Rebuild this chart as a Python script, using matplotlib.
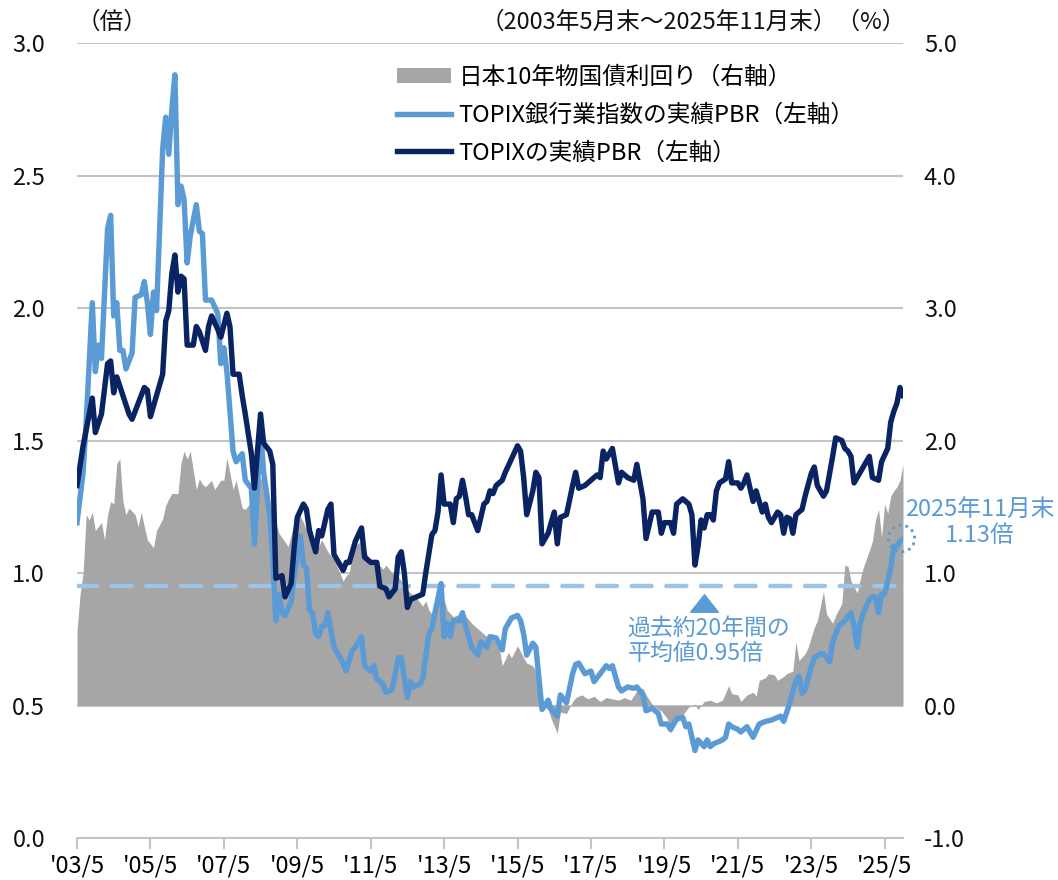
import numpy as np
import matplotlib
matplotlib.use("Agg")
from matplotlib import pyplot as plt
from matplotlib.lines import Line2D
from matplotlib.patches import Patch, Ellipse

plt.rcParams['font.family'] = ['Noto Sans CJK JP', 'DejaVu Sans']

# x values are months counted from 2003/5 (0) to 2025/11 (270)
topix_m = [0, 2, 5, 6, 8, 10, 11, 12, 13, 15, 17, 18, 20, 22, 23, 24, 26, 28, 29, 30,
           31, 32, 33, 34, 35, 36, 38, 39, 40, 42, 43, 44, 46, 47, 49, 50, 51, 53, 54, 55,
           57, 58, 60, 61, 63, 64, 65, 67, 68, 70, 71, 72, 74, 75, 76, 78, 79, 80, 82, 83,
           84, 85, 87, 88, 89, 91, 93, 94, 96, 98, 99, 101, 102, 104, 105, 106, 107, 108, 109, 111,
           113, 114, 116, 117, 118, 119, 120, 122, 123, 124, 125, 126, 127, 128, 129, 131, 133, 134, 135, 136,
           137, 139, 140, 142, 144, 145, 146, 147, 149, 150, 151, 152, 154, 156, 157, 158, 160, 162, 163, 164,
           166, 168, 170, 171, 172, 173, 175, 177, 178, 180, 182, 183, 185, 186, 188, 190, 191, 192, 194, 195,
           196, 198, 200, 201, 202, 203, 204, 205, 206, 207, 208, 209, 210, 212, 213, 214, 216, 217, 218, 219,
           220, 221, 222, 224, 225, 226, 227, 229, 230, 231, 232, 233, 234, 235, 237, 238, 240, 241, 242, 244,
           245, 247, 248, 250, 251, 252, 253, 254, 256, 258, 259, 260, 262, 263, 265, 266, 267, 268, 269, 270]
topix_pbr = [1.33, 1.48, 1.66, 1.53, 1.60, 1.79, 1.80, 1.68, 1.74, 1.67, 1.60, 1.58, 1.64, 1.70, 1.69, 1.59, 1.67, 1.75, 1.95, 1.99,
             2.13, 2.20, 2.06, 2.12, 2.11, 1.86, 1.86, 1.93, 1.91, 1.84, 1.93, 1.97, 1.92, 1.89, 1.98, 1.93, 1.75, 1.75, 1.67, 1.60,
             1.45, 1.32, 1.60, 1.49, 1.46, 1.41, 0.98, 0.99, 0.91, 0.96, 1.10, 1.21, 1.26, 1.24, 1.16, 1.08, 1.16, 1.14, 1.24, 1.26,
             1.07, 1.05, 1.01, 1.04, 1.04, 1.12, 1.17, 1.06, 1.04, 1.04, 0.95, 0.94, 0.91, 0.94, 1.06, 1.08, 1.00, 0.87, 0.90, 0.91,
             0.92, 1.00, 1.145, 1.16, 1.23, 1.37, 1.26, 1.26, 1.19, 1.28, 1.29, 1.35, 1.29, 1.22, 1.22, 1.16, 1.26, 1.27, 1.31, 1.30,
             1.33, 1.35, 1.38, 1.43, 1.48, 1.46, 1.36, 1.22, 1.31, 1.38, 1.36, 1.11, 1.15, 1.23, 1.11, 1.21, 1.22, 1.33, 1.38, 1.32,
             1.33, 1.35, 1.37, 1.36, 1.46, 1.43, 1.47, 1.34, 1.38, 1.36, 1.35, 1.41, 1.28, 1.13, 1.23, 1.23, 1.15, 1.19, 1.19, 1.15,
             1.26, 1.28, 1.26, 1.22, 1.03, 1.10, 1.20, 1.17, 1.22, 1.22, 1.20, 1.31, 1.34, 1.355, 1.42, 1.34, 1.34, 1.32, 1.34, 1.37,
             1.32, 1.27, 1.31, 1.23, 1.26, 1.21, 1.19, 1.23, 1.22, 1.15, 1.21, 1.205, 1.15, 1.22, 1.24, 1.29, 1.375, 1.40, 1.33, 1.29,
             1.31, 1.44, 1.51, 1.50, 1.47, 1.46, 1.44, 1.34, 1.38, 1.42, 1.44, 1.36, 1.35, 1.42, 1.47, 1.57, 1.61, 1.64, 1.70, 1.67]

bank_m = [0, 2, 3, 5, 6, 7, 8, 10, 11, 12, 13, 14, 15, 16, 18, 19, 21, 22, 23, 24,
          25, 26, 28, 29, 30, 31, 32, 33, 34, 35, 36, 37, 39, 40, 41, 42, 44, 46, 47, 48,
          49, 51, 52, 54, 55, 57, 58, 60, 61, 62, 63, 64, 65, 66, 67, 68, 70, 71, 73, 74,
          75, 76, 77, 78, 79, 80, 81, 82, 84, 85, 87, 88, 90, 91, 93, 94, 96, 97, 98, 100,
          101, 103, 105, 106, 108, 109, 110, 112, 113, 115, 116, 117, 119, 120, 121, 122, 123, 125, 126, 127,
          129, 131, 132, 134, 135, 137, 139, 140, 142, 144, 145, 146, 147, 149, 150, 152, 154, 155, 157, 158,
          160, 162, 163, 164, 166, 168, 169, 171, 173, 174, 175, 177, 178, 180, 182, 183, 185, 186, 188, 190,
          191, 193, 194, 196, 198, 199, 200, 202, 203, 205, 206, 207, 208, 211, 212, 213, 214, 216, 217, 219,
          221, 223, 225, 227, 230, 231, 233, 235, 236, 237, 238, 240, 241, 243, 244, 246, 247, 249, 251, 253,
          254, 255, 256, 257, 259, 260, 261, 262, 263, 264, 266, 267, 268, 269, 270]
bank_pbr = [1.19, 1.38, 1.57, 2.02, 1.76, 1.86, 1.81, 2.30, 2.35, 1.97, 2.02, 1.84, 1.84, 1.77, 1.83, 2.04, 2.05, 2.10, 2.02, 1.90,
            2.06, 1.99, 2.60, 2.72, 2.58, 2.75, 2.88, 2.39, 2.46, 2.41, 2.17, 2.27, 2.39, 2.29, 2.28, 2.03, 2.03, 1.98, 1.79, 1.85,
            1.76, 1.46, 1.42, 1.45, 1.35, 1.32, 1.11, 1.54, 1.38, 1.30, 1.22, 1.05, 0.82, 0.92, 0.85, 0.84, 0.89, 0.99, 1.14, 1.03,
            1.02, 0.86, 0.85, 0.77, 0.76, 0.80, 0.80, 0.85, 0.72, 0.70, 0.66, 0.63, 0.71, 0.72, 0.76, 0.65, 0.63, 0.65, 0.60, 0.58,
            0.55, 0.56, 0.68, 0.68, 0.53, 0.59, 0.57, 0.58, 0.60, 0.77, 0.79, 0.85, 0.96, 0.76, 0.81, 0.76, 0.82, 0.82, 0.85, 0.80,
            0.72, 0.69, 0.74, 0.72, 0.76, 0.755, 0.71, 0.79, 0.83, 0.84, 0.82, 0.77, 0.69, 0.735, 0.72, 0.485, 0.52, 0.485, 0.46, 0.54,
            0.51, 0.62, 0.655, 0.66, 0.62, 0.63, 0.59, 0.62, 0.65, 0.64, 0.65, 0.57, 0.555, 0.57, 0.565, 0.57, 0.54, 0.48, 0.49, 0.47,
            0.43, 0.43, 0.41, 0.45, 0.455, 0.42, 0.43, 0.33, 0.37, 0.345, 0.37, 0.345, 0.355, 0.37, 0.38, 0.43, 0.42, 0.41, 0.40, 0.42,
            0.38, 0.43, 0.44, 0.445, 0.46, 0.44, 0.51, 0.595, 0.61, 0.545, 0.56, 0.645, 0.68, 0.695, 0.695, 0.665, 0.74, 0.80, 0.82, 0.85,
            0.80, 0.72, 0.81, 0.85, 0.90, 0.91, 0.91, 0.85, 0.92, 0.92, 1.02, 1.10, 1.10, 1.12, 1.13]

jgb_m = [0, 1, 2, 3, 4, 5, 6, 8, 9, 10, 11, 12, 13, 14, 15, 16, 17, 19, 20, 21,
         22, 23, 25, 26, 28, 29, 30, 31, 33, 34, 35, 36, 37, 39, 40, 41, 42, 44, 45, 47,
         48, 49, 51, 52, 54, 55, 57, 59, 61, 62, 63, 65, 66, 69, 71, 72, 74, 75, 77, 79,
         80, 82, 84, 85, 87, 88, 89, 90, 91, 93, 95, 96, 98, 100, 101, 103, 105, 106, 108, 109,
         111, 113, 114, 115, 117, 119, 120, 121, 123, 124, 126, 128, 129, 132, 134, 136, 138, 139, 141, 142,
         144, 146, 147, 149, 151, 152, 154, 155, 157, 158, 160, 162, 163, 165, 167, 169, 171, 173, 175, 177,
         179, 181, 183, 185, 186, 188, 190, 191, 193, 194, 196, 198, 199, 200, 202, 203, 205, 207, 209, 211,
         213, 214, 216, 217, 219, 221, 222, 223, 225, 226, 228, 229, 231, 232, 234, 235, 236, 238, 239, 241,
         242, 244, 245, 247, 248, 250, 251, 252, 253, 255, 256, 257, 259, 260, 261, 262, 263, 264, 265, 266,
         267, 268, 269, 270]
jgb_yield = [0.56, 0.84, 1.00, 1.44, 1.40, 1.46, 1.32, 1.38, 1.25, 1.44, 1.54, 1.52, 1.83, 1.86, 1.54, 1.44, 1.49, 1.44, 1.35, 1.46,
             1.35, 1.25, 1.19, 1.32, 1.41, 1.51, 1.56, 1.60, 1.60, 1.83, 1.92, 1.86, 1.92, 1.63, 1.71, 1.67, 1.65, 1.70, 1.63, 1.70,
             1.70, 1.87, 1.63, 1.70, 1.49, 1.48, 1.54, 1.67, 1.75, 1.55, 1.43, 1.38, 1.30, 1.20, 1.38, 1.48, 1.38, 1.33, 1.25, 1.20,
             1.25, 1.16, 1.10, 1.05, 0.94, 0.98, 1.00, 1.15, 1.21, 1.24, 1.13, 1.10, 1.08, 1.03, 1.06, 1.00, 0.97, 0.94, 0.87, 0.85,
             0.81, 0.75, 0.79, 0.72, 0.66, 0.86, 0.80, 0.72, 0.67, 0.68, 0.70, 0.65, 0.62, 0.56, 0.52, 0.50, 0.44, 0.30, 0.40, 0.36,
             0.45, 0.36, 0.32, 0.30, 0.22, 0.00, -0.03, -0.10, -0.21, -0.05, -0.06, 0.03, 0.06, 0.08, 0.05, 0.07, 0.03, 0.06, 0.05, 0.04,
             0.06, 0.04, 0.11, 0.13, 0.08, 0.01, -0.03, -0.04, -0.10, -0.21, -0.13, -0.07, -0.04, -0.01, 0.01, -0.03, 0.03, 0.04, 0.02, 0.04,
             0.15, 0.09, 0.08, 0.03, 0.08, 0.10, 0.07, 0.19, 0.21, 0.24, 0.23, 0.19, 0.22, 0.24, 0.26, 0.48, 0.34, 0.39, 0.44, 0.59,
             0.64, 0.86, 0.69, 0.62, 0.68, 0.77, 1.06, 1.05, 0.94, 0.85, 0.95, 1.04, 1.17, 1.24, 1.40, 1.48, 1.27, 1.52, 1.45, 1.58,
             1.62, 1.65, 1.70, 1.82]

avg_pbr = 0.95
last_pbr = 1.13

xtick_m = list(range(0, 265, 24))
xtick_labels = ["'03/5", "'05/5", "'07/5", "'09/5", "'11/5", "'13/5", "'15/5", "'17/5",
                "'19/5", "'21/5", "'23/5", "'25/5"]

navy = '#0a2463'
lblue = '#5b9bd5'
dash_c = '#9dc3e6'
gray = '#a6a6a6'
grid_c = '#c4c4c4'
fs = 17

fig = plt.figure(figsize=(10.58, 8.8), dpi=100)
ax2 = fig.add_axes([77/1058, 1 - 838/880, 826/1058, 795/880])
ax = ax2.twinx()
ax.set_zorder(ax2.get_zorder() + 1)
ax.patch.set_visible(False)

# right axis: yield area + gridlines (grid positions coincide with left ticks)
ax2.fill_between(jgb_m, 0, jgb_yield, color=gray, lw=0, zorder=1)
ax2.set_ylim(-1, 5)
ax2.set_yticks(np.arange(-1, 5.01, 1))
ax2.set_yticklabels([f'{v:.1f}' for v in np.arange(-1, 5.01, 1)])
ax2.yaxis.tick_right()
ax2.grid(axis='y', color=grid_c, lw=1.5, zorder=0)
ax2.set_axisbelow(True)
ax2.tick_params(axis='y', length=0, pad=15, labelsize=fs, labelcolor='#111111')
ax2.set_xlim(0, 270)
ax2.set_xticks(xtick_m)
ax2.set_xticklabels(xtick_labels)
ax2.tick_params(axis='x', length=8, width=1.5, color=grid_c, pad=4, labelsize=fs)
for s in ['top', 'left', 'right']:
    ax2.spines[s].set_visible(False)
ax2.spines['bottom'].set_color(grid_c)
ax2.spines['bottom'].set_linewidth(1.5)

# left axis: PBR lines
ax.axhline(avg_pbr, color=dash_c, lw=3.2, dashes=(4.5, 3.3), dash_capstyle='round', zorder=2)
ax.plot(bank_m, bank_pbr, color=lblue, lw=3.9, solid_joinstyle='round', zorder=3)
ax.plot(topix_m, topix_pbr, color=navy, lw=3.9, solid_joinstyle='round', zorder=4)
ax.set_ylim(0, 3)
ax.set_yticks(np.arange(0, 3.01, 0.5))
ax.set_yticklabels([f'{v:.1f}' for v in np.arange(0, 3.01, 0.5)])
ax.yaxis.tick_left()
ax.tick_params(axis='y', length=0, pad=23, labelsize=fs, labelcolor='#111111')
for s in ax.spines.values():
    s.set_visible(False)

# annotations
tri = [(-1, -0.63), (1, -0.63), (0, 0.63), (-1, -0.63)]
ax.plot([205], [0.885], marker=tri, ms=20, color=lblue, lw=0, zorder=5)
ax.text(180, 0.835, '過去約20年間の\n平均値0.95倍', color=lblue, fontsize=16.5,
        ha='left', va='top', linespacing=1.12)
ax.add_patch(Ellipse((269.5, last_pbr), 8.6, 0.1, fill=False, ec=lblue, lw=2,
                     ls=(0, (1, 1.5)), zorder=6, clip_on=False))
ax.text(295, 1.19, '2025年11月末\n1.13倍', color=lblue, fontsize=fs,
        ha='center', va='center', linespacing=1.1, clip_on=False)

fig.text(77/1058, 1 - 22/880, '（倍）', fontsize=fs, ha='left', va='center', color='#111111')
fig.text(906/1058, 1 - 22/880, '（2003年5月末～2025年11月末）（%）', fontsize=fs,
         ha='right', va='center', color='#111111')

handles = [Patch(color=gray, lw=0),
           Line2D([], [], color=lblue, lw=3.9),
           Line2D([], [], color=navy, lw=3.9)]
labels = ['日本10年物国債利回り（右軸）', 'TOPIX銀行業指数の実績PBR（左軸）', 'TOPIXの実績PBR（左軸）']
ax.legend(handles, labels, loc='upper left', bbox_to_anchor=(397/1058, 1 - 66/880),
          bbox_transform=fig.transFigure, frameon=False, fontsize=fs, borderpad=0,
          borderaxespad=0, handlelength=2.3, handleheight=0.6, handletextpad=0.3,
          labelspacing=0.62)

fig.savefig('out.png', dpi=100)
